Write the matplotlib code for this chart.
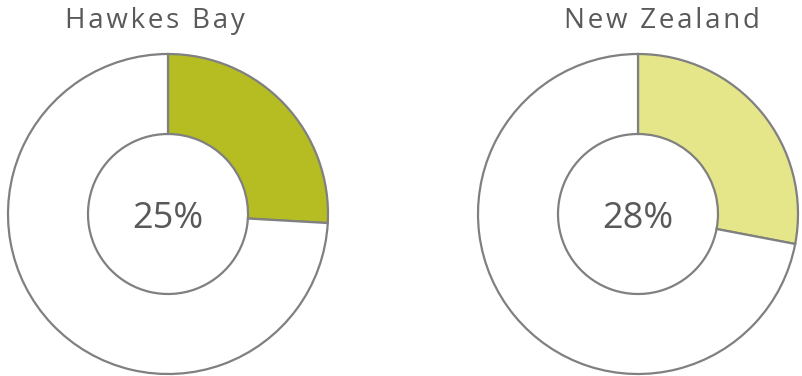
import matplotlib as mpl
mpl.use('Agg')
import matplotlib.pyplot as plt

regions = ['Hawkes Bay', 'New Zealand']
shares = [25.9, 28.0]
share_labels = ['25%', '28%']
fill_colors = ['#b5bd23', '#e5e58a']

fig = plt.figure(figsize=(8.02, 3.76), dpi=100)
ax = fig.add_axes([0, 0, 1, 1])

centers = [(168, 162), (638, 162)]
title_x = [155, 662]
hair = '\u200a'  # widen the letter spacing a little, like the original
for i in range(len(regions)):
    ax.pie([shares[i], 100 - shares[i]], colors=[fill_colors[i], 'white'],
           startangle=90, counterclock=False, radius=160, center=centers[i],
           wedgeprops=dict(width=80, edgecolor='#808080', linewidth=1.6))
    ax.text(centers[i][0], 148, share_labels[i], ha='center', va='baseline',
            fontsize=26, color='#595959', family=['Open Sans', 'DejaVu Sans'])
    ax.text(title_x[i], 348, hair.join(regions[i]), ha='center', va='baseline',
            fontsize=20, color='#595959', family=['Open Sans', 'DejaVu Sans'])

ax.set_xlim(0, 802)
ax.set_ylim(0, 376)
ax.set_aspect('equal')
ax.axis('off')

plt.savefig('out.png', dpi=100)
